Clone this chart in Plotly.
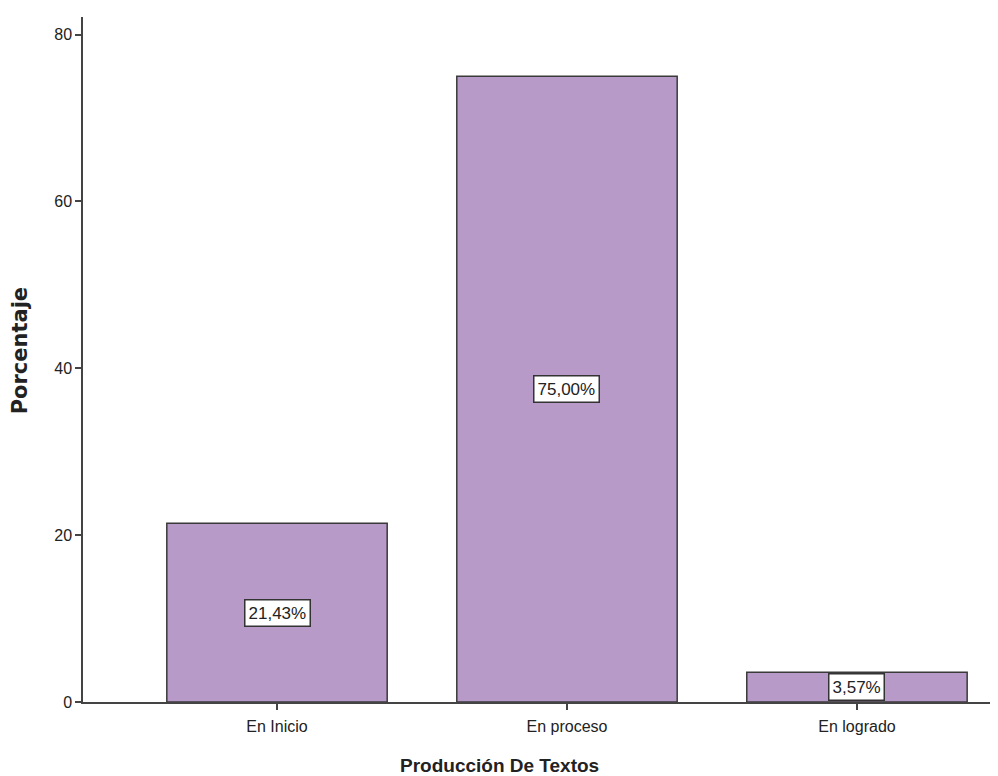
import plotly.graph_objects as go

categories = ["En Inicio", "En proceso", "En logrado"]
values = [21.43, 75.00, 3.57]
labels = ["21,43%", "75,00%", "3,57%"]
y_ticks = [0, 20, 40, 60, 80]

fig = go.Figure()
fig.add_trace(go.Bar(
    x=list(range(len(categories))), y=values, width=0.76,
    marker=dict(color="#b89ac8", line=dict(color="#3a3a3a", width=1.5)),
    hoverinfo="skip",
))
for i, (v, lab) in enumerate(zip(values, labels)):
    fig.add_annotation(x=i, y=v / 2, text=lab, showarrow=False,
                       font=dict(family="Liberation Sans, Arial", size=17, color="#222"),
                       bgcolor="white", bordercolor="#333", borderwidth=1.5, borderpad=3)

# axis titles as paper-positioned annotations (reference centres them on the page)
fig.add_annotation(xref="paper", yref="paper", x=0.457, y=-0.092, yanchor="middle",
                   text="<b>Producción De Textos</b>", showarrow=False,
                   font=dict(family="Liberation Sans, Arial", size=19, color="#222"))
fig.add_annotation(xref="paper", yref="paper", x=-0.069, y=0.512, xanchor="center",
                   text="<b>Porcentaje</b>", textangle=-90, showarrow=False,
                   font=dict(family="DejaVu Sans, Liberation Sans", size=21, color="#222"))

fig.update_layout(
    width=990, height=768,
    margin=dict(l=75, r=3, t=9, b=74),
    paper_bgcolor="white", plot_bgcolor="white",
    showlegend=False,
    font=dict(family="Liberation Sans, Arial", size=16, color="#222"),
    xaxis=dict(
        range=[-0.669, 2.476], tickmode="array",
        tickvals=list(range(len(categories))), ticktext=categories,
        showline=True, linecolor="#444", linewidth=1.5,
        ticks="outside", ticklen=6, tickcolor="#444", tickwidth=1.5,
        ticklabelstandoff=3,
        showgrid=False, zeroline=False,
    ),
    yaxis=dict(
        range=[0, 82.1], tickvals=y_ticks,
        showline=True, linecolor="#444", linewidth=1.5,
        ticks="outside", ticklen=6, tickcolor="#444", tickwidth=1.5,
        showgrid=False, zeroline=False,
    ),
)
fig.write_html("out.html")
